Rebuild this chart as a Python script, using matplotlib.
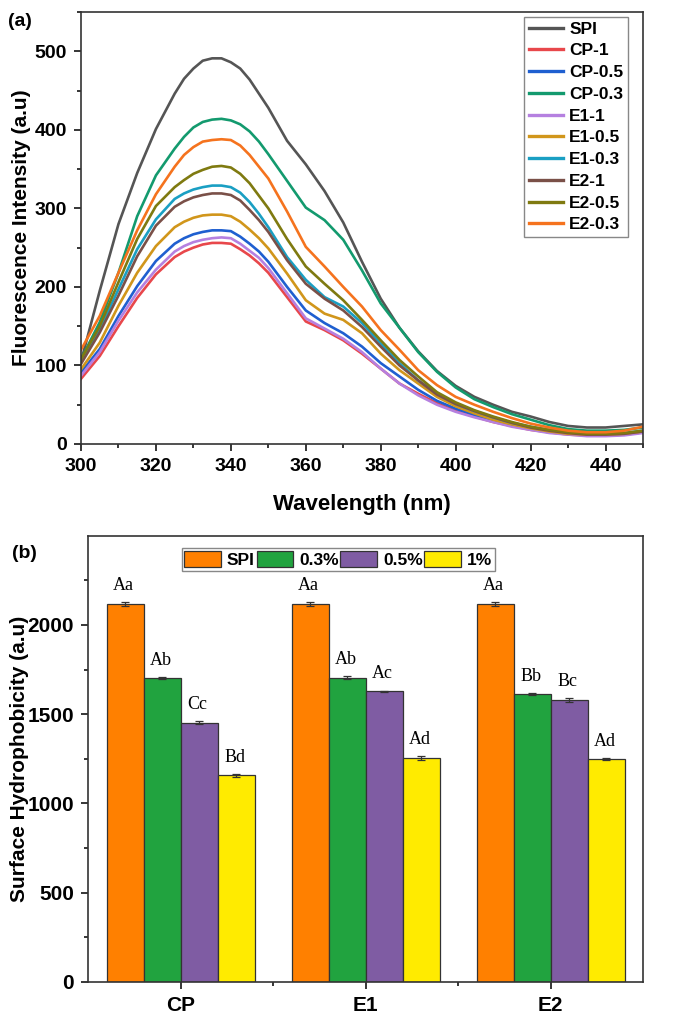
import matplotlib
matplotlib.use("Agg")
import matplotlib.pyplot as plt
from matplotlib.ticker import MultipleLocator, FixedLocator
import numpy as np

plt.rcParams['font.family'] = ['Liberation Sans', 'DejaVu Sans']

# ---------------- Panel (a) data ----------------
wavelength = [300, 305, 310, 315, 320, 325, 327.5, 330, 332.5, 335, 337.5, 340, 342.5, 345, 347.5, 350,
              355, 360, 365, 370, 375, 380, 385, 390, 395, 400, 405, 410, 415, 420, 425, 430, 435, 440, 445, 450]

SPI   = [105, 195, 280, 345, 401, 446, 465, 478, 488, 491, 491, 486, 478, 464, 446, 428,
         386, 356, 322, 282, 232, 185, 148, 118, 93, 74, 60, 50, 41, 35, 28, 23, 21, 21, 23, 25]
CP_1  = [83, 112, 150, 186, 216, 238, 245, 250, 254, 256, 256, 255, 248, 240, 230, 218,
         187, 156, 145, 132, 115, 96, 77, 64, 52, 42, 35, 28, 23, 18, 15, 12, 11, 11, 12, 15]
CP_05 = [91, 121, 163, 201, 233, 255, 262, 267, 270, 272, 272, 271, 264, 255, 245, 232,
         200, 170, 154, 141, 124, 103, 86, 69, 55, 45, 37, 30, 24, 19, 15, 13, 11, 11, 12, 15]
CP_03 = [108, 155, 218, 290, 342, 376, 391, 403, 410, 413, 414, 412, 407, 398, 385, 369,
         335, 301, 285, 260, 221, 179, 148, 117, 92, 72, 57, 47, 38, 31, 24, 19, 17, 17, 18, 21]
E1_1  = [87, 117, 157, 193, 222, 245, 252, 257, 260, 262, 263, 262, 255, 246, 237, 224,
         192, 160, 147, 134, 117, 96, 77, 62, 50, 41, 34, 28, 22, 18, 14, 12, 10, 10, 11, 14]
E1_05 = [95, 129, 176, 218, 252, 276, 283, 288, 291, 292, 292, 290, 283, 273, 262, 249,
         217, 183, 166, 158, 141, 115, 94, 77, 60, 48, 39, 31, 25, 20, 16, 13, 12, 12, 13, 16]
E1_03 = [106, 146, 197, 248, 286, 312, 319, 324, 327, 329, 329, 327, 320, 308, 293, 276,
         238, 209, 187, 175, 154, 128, 103, 81, 64, 51, 42, 34, 27, 22, 18, 15, 13, 13, 14, 17]
E2_1  = [102, 142, 189, 239, 278, 302, 309, 314, 317, 319, 319, 317, 310, 298, 285, 270,
         234, 204, 185, 170, 149, 124, 100, 81, 63, 51, 42, 34, 27, 21, 17, 14, 12, 12, 13, 16]
E2_05 = [108, 150, 206, 261, 303, 327, 336, 344, 349, 353, 354, 352, 344, 332, 316, 300,
         261, 226, 204, 183, 158, 132, 107, 86, 66, 53, 43, 35, 28, 22, 18, 15, 13, 13, 14, 17]
E2_03 = [120, 163, 218, 272, 318, 353, 368, 378, 385, 387, 388, 387, 380, 368, 353, 338,
         296, 251, 226, 200, 175, 145, 120, 94, 75, 60, 50, 41, 33, 26, 21, 17, 15, 15, 17, 22]

spec_labels = ['SPI', 'CP-1', 'CP-0.5', 'CP-0.3', 'E1-1', 'E1-0.5', 'E1-0.3', 'E2-1', 'E2-0.5', 'E2-0.3']
spec_series = [SPI, CP_1, CP_05, CP_03, E1_1, E1_05, E1_03, E2_1, E2_05, E2_03]
spec_colors = ['#555555', '#E8474B', '#1F5FD0', '#139A6E', '#B580E0',
               '#D1961B', '#1A9FC3', '#7A5048', '#7F7A10', '#F5731E']

# ---------------- Panel (b) data ----------------
groups = ['CP', 'E1', 'E2']
bar_labels = ['SPI', '0.3%', '0.5%', '1%']
val_SPI = [2116, 2116, 2116]
val_03  = [1701, 1705, 1613]
val_05  = [1452, 1628, 1580]
val_1   = [1157, 1254, 1247]
err_SPI = [12, 12, 12]
err_03  = [6, 6, 6]
err_05  = [10, 4, 10]
err_1   = [7, 10, 5]
let_SPI = ['Aa', 'Aa', 'Aa']
let_03  = ['Ab', 'Ab', 'Bb']
let_05  = ['Cc', 'Ac', 'Bc']
let_1   = ['Bd', 'Ad', 'Ad']
bar_colors = ['#FF8000', '#21A33F', '#7F5CA3', '#FFEB00']

W, H = 679, 1024
fig = plt.figure(figsize=(W / 100, H / 100), dpi=100)

# ---------- (a) ----------
axa = fig.add_axes([81 / W, 1 - 444 / H, 562 / W, 432 / H])
for lab, ser, col in zip(spec_labels, spec_series, spec_colors):
    axa.plot(wavelength, ser, color=col, lw=1.9, label=lab, solid_joinstyle='round')
axa.set_xlim(300, 450)
axa.set_ylim(0, 550)
axa.xaxis.set_major_locator(MultipleLocator(20))
axa.xaxis.set_minor_locator(MultipleLocator(10))
axa.yaxis.set_major_locator(MultipleLocator(100))
axa.yaxis.set_minor_locator(MultipleLocator(50))
axa.tick_params(which='both', direction='out', top=False, right=False, width=1.1)
axa.tick_params(which='major', length=5, labelsize=14, pad=5)
axa.tick_params(which='minor', length=3)
for lbl in axa.get_xticklabels() + axa.get_yticklabels():
    lbl.set_fontweight('bold')
for s in axa.spines.values():
    s.set_linewidth(1.2)
    s.set_color('#333333')
axa.set_xlabel('Wavelength (nm)', fontsize=16, fontweight='bold', labelpad=14)
axa.set_ylabel('Fluorescence Intensity (a.u)', fontsize=15, fontweight='bold', labelpad=3)
leg = axa.legend(loc='upper right', bbox_to_anchor=(0.973, 0.988), borderaxespad=0,
                 prop={'weight': 'bold', 'size': 12.5}, handlelength=2.0,
                 labelspacing=0.38, handletextpad=0.35, fancybox=False,
                 edgecolor='#888888', framealpha=1, borderpad=0.25)
leg.get_frame().set_linewidth(1.0)
for l in leg.get_lines():
    l.set_linewidth(2.4)
fig.text(8 / W, 1 - 21 / H, '(a)', fontsize=14, fontweight='bold', va='center', ha='left')

# ---------- (b) ----------
axb = fig.add_axes([88 / W, 1 - 981.7 / H, 555 / W, 446 / H])
x = np.arange(len(groups))
width = 0.2
offsets = [-0.3, -0.1, 0.1, 0.3]
vals = [val_SPI, val_03, val_05, val_1]
errs = [err_SPI, err_03, err_05, err_1]
lets = [let_SPI, let_03, let_05, let_1]
for off, v, e, lt, col, lab in zip(offsets, vals, errs, lets, bar_colors, bar_labels):
    axb.bar(x + off, v, width, color=col, edgecolor='#333333', linewidth=0.9,
            label=lab, yerr=e, capsize=3,
            error_kw={'elinewidth': 0.9, 'ecolor': '#333333', 'capthick': 0.9})
    for xi, vi, ei, ti in zip(x + off, v, e, lt):
        axb.annotate(ti, (xi, vi + ei), xytext=(-1, 6), textcoords='offset points',
                     ha='center', va='bottom', fontsize=13,
                     family=['Liberation Serif', 'DejaVu Serif'])
axb.set_xlim(-0.5, 2.5)
axb.set_ylim(0, 2500)
axb.set_xticks(x)
axb.set_xticklabels(groups)
axb.set_xticks([0.5, 1.5], minor=True)
axb.yaxis.set_major_locator(FixedLocator([0, 500, 1000, 1500, 2000]))
axb.yaxis.set_minor_locator(FixedLocator([250, 750, 1250, 1750, 2250]))
axb.tick_params(which='both', direction='out', top=False, right=False, width=1.1)
axb.tick_params(which='major', length=5, labelsize=15, pad=5)
axb.tick_params(which='minor', length=3)
for lbl in axb.get_xticklabels() + axb.get_yticklabels():
    lbl.set_fontweight('bold')
for s in axb.spines.values():
    s.set_linewidth(1.2)
    s.set_color('#333333')
axb.set_ylabel('Surface Hydrophobicity (a.u)', fontsize=15, fontweight='bold', labelpad=-1)
legb = axb.legend(loc='upper center', bbox_to_anchor=(0.451, 0.972), borderaxespad=0,
                  ncol=4, prop={'weight': 'bold', 'size': 12.5}, handlelength=2.1,
                  handleheight=1.1, handletextpad=0.35, columnspacing=0.1,
                  fancybox=False, edgecolor='#888888', framealpha=1, borderpad=0.15)
legb.get_frame().set_linewidth(1.0)
fig.text(12 / W, 1 - 553 / H, '(b)', fontsize=14, fontweight='bold', va='center', ha='left')

fig.savefig('out.png', dpi=100)
